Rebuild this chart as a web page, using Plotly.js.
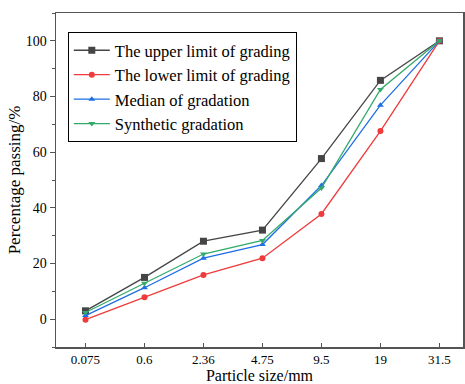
<!DOCTYPE html>
<html><head><meta charset="utf-8">
<script src="https://cdn.plot.ly/plotly-3.0.1.min.js"></script>
<style>html,body{margin:0;padding:0;background:#fff}#chart{width:465px;height:384px}</style>
</head><body><div id="chart"></div>
<script>
const sizes = ["0.075","0.6","2.36","4.75","9.5","19","31.5"];
const upperLimit = [3, 15, 28, 32, 57.7, 85.8, 100];
const lowerLimit = [-0.2, 7.9, 15.9, 21.9, 37.8, 67.6, 100];
const medianGrad = [1.3, 11.3, 21.9, 26.8, 48, 76.9, 100];
const synthetic = [2.4, 12.9, 23.4, 28.3, 47.1, 82.5, 100];
const names = ["The upper limit of grading","The lower limit of grading","Median of gradation","Synthetic gradation"];
const colors = ["#454545","#ef3b3b","#1f6fe4","#33a96a"];
const symbols = ["square","circle","triangle-up","triangle-down"];
const series = [upperLimit, lowerLimit, medianGrad, synthetic];
const traces = series.map((s,i)=>({
  x: sizes, y: s, name: names[i], type:"scatter", mode:"lines+markers",
  line:{color:colors[i], width:1.3},
  marker:{color:colors[i], symbol:symbols[i], size: i===0?7:6}
}));
const FAM = "Liberation Serif";
const layout = {
  width:465, height:384,
  margin:{l:56, r:0, t:13, b:37},
  paper_bgcolor:"#fff", plot_bgcolor:"#fff",
  font:{family:FAM, size:13, color:"#000"},
  showlegend:true,
  legend:{x:0.029, y:0.943, xanchor:"left", yanchor:"top", bordercolor:"#000", borderwidth:1,
    font:{family:FAM, size:16.5, color:"#000"}, bgcolor:"rgba(255,255,255,0)", tracegroupgap:0, itemwidth:36},
  xaxis:{type:"category", range:[-0.5,6.4], showline:true, linecolor:"#555", linewidth:1.5, mirror:true,
    ticks:"inside", ticklen:4, tickcolor:"#555", showgrid:false, zeroline:false,
    minor:{ticks:"inside", ticklen:2, tickcolor:"#555", showgrid:false},
    tickfont:{family:FAM, size:13, color:"#000"},
    title:{text:"Particle size/mm", font:{family:FAM, size:16, color:"#000"}}},
  yaxis:{range:[-10,110], tickvals:[0,20,40,60,80,100], showline:true, linecolor:"#555", linewidth:1.5, mirror:true,
    ticks:"outside", ticklen:5, tickcolor:"#555", showgrid:false, zeroline:false,
    minor:{dtick:10, tick0:10, ticks:"outside", ticklen:3, tickcolor:"#555"},
    tickfont:{family:FAM, size:14, color:"#000"}, automargin:true,
    title:{text:"Percentage passing/%", font:{family:FAM, size:17, color:"#000"}, standoff:1}}
};
Plotly.newPlot("chart", traces, layout, {staticPlot:true, displayModeBar:false});
</script></body></html>
